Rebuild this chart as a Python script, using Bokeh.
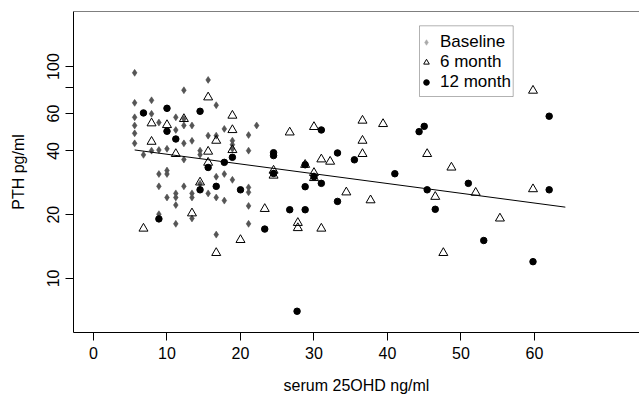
from bokeh.plotting import figure
from bokeh.models import (ColumnDataSource, FixedTicker, Range1d, Legend, LegendItem,
                          Span, BoxAnnotation, PrintfTickFormatter)
from bokeh.embed import file_html
from bokeh.resources import INLINE

# ---------------- data ----------------
base_x = [5.6, 5.6, 5.6, 5.6, 5.6, 5.6,
          6.8,
          7.9, 7.9, 7.9,
          8.9, 8.9, 8.9, 8.9, 8.9,
          10.0, 10.0, 10.0, 10.0, 10.0,
          11.2, 11.2, 11.2, 11.2, 11.2, 11.2,
          12.3, 12.3, 12.3, 12.3, 12.3, 12.3,
          13.4, 13.4, 13.4, 13.4, 13.4,
          14.5, 14.5, 14.5,
          15.6, 15.6, 15.6,
          16.7, 16.7, 16.7, 16.7, 16.7,
          17.8, 17.8, 17.8,
          18.9, 18.9, 18.9, 18.9,
          21.1, 21.1, 21.1, 21.1, 21.1, 21.1,
          22.2]
base_y = [93.4, 67.4, 57.6, 52.7, 48.4, 43.4,
          38.3,
          69.3, 59.8, 40.1,
          54.4, 40.4, 31.1, 27.2, 20.1,
          63.5, 40.9, 32.3, 31.1, 24.1,
          57.6, 50.2, 25.2, 24.1, 22.2, 18.1,
          77.3, 56.6, 52.7, 43.4, 36.4, 27.2,
          52.7, 44.6, 25.2, 24.1, 19.2,
          40.1, 38.4, 28.0,
          86.5, 47.2, 25.2,
          65.7, 47.2, 30.2, 24.1, 16.1,
          50.8, 31.1, 23.3,
          44.7, 42.8, 40.9, 29.2,
          47.5, 40.1, 26.9, 25.5, 22.0, 18.1,
          52.7]

m6_x = [15.6, 18.9, 7.9, 10.0, 12.3, 18.9, 16.7, 7.9, 18.9, 15.6, 11.2, 15.6,
        14.5, 13.4, 6.8, 20.0, 16.7, 26.7, 30.0, 36.6, 36.6, 36.6, 31.0, 32.2,
        24.5, 24.5, 30.0, 30.0, 34.4, 37.7, 23.3, 27.8, 27.8, 31.0, 39.4, 45.4,
        48.7, 46.5, 52.0, 59.8, 55.3, 47.6, 59.8, 28.8]
m6_y = [71.6, 58.7, 54.0, 53.0, 56.6, 50.2, 44.7, 44.2, 40.4, 39.7, 38.7, 35.2,
        28.4, 20.3, 17.2, 15.2, 13.2, 48.9, 51.9, 55.6, 44.7, 38.7, 36.5, 35.6,
        32.3, 30.6, 31.5, 29.8, 25.5, 23.4, 21.3, 18.3, 17.3, 17.2, 53.6, 38.7,
        33.4, 24.3, 25.4, 26.4, 19.2, 13.2, 77.0, 34.4]

m12_x = [6.8, 14.5, 10.0, 10.0, 11.2, 18.9, 17.8, 15.6, 16.7, 14.5, 20.0, 8.9,
         24.5, 24.5, 24.5, 28.8, 31.0, 33.2, 35.5, 30.0, 28.8, 31.0, 33.2, 26.7,
         28.8, 23.3, 27.7, 44.3, 45.0, 41.0, 45.4, 51.0, 62.0, 46.5, 53.1, 59.8, 62.0]
m12_y = [60.4, 61.5, 63.5, 49.5, 45.5, 37.3, 35.3, 33.4, 27.2, 26.2, 26.2, 19.1,
         39.2, 38.0, 31.3, 34.4, 50.2, 39.1, 36.3, 30.2, 27.1, 28.1, 23.1, 21.1,
         21.1, 17.1, 7.0, 49.3, 52.2, 31.2, 26.2, 28.1, 26.2, 21.2, 15.1, 12.0, 58.3]

fit_x = [5.6, 64.2]
fit_y = [40.4, 21.7]

x_ticks = [0, 10, 20, 30, 40, 50, 60]
y_ticks = [10, 20, 40, 60, 80, 100]
y_tick_labels = {10: "10", 20: "20", 40: "40", 60: "60", 80: "", 100: "100"}

legend_labels = ["Baseline", "6 month", "12 month"]

FONT = "Liberation Sans"

# ---------------- figure ----------------
x_lo, x_hi = -2.72, 74.29
y_lo, y_hi = 5.557, 181.9

p = figure(width=639, height=396, output_backend="svg", toolbar_location=None,
           x_range=Range1d(x_lo, x_hi), y_range=Range1d(y_lo, y_hi),
           y_axis_type="log",
           min_border_left=73, min_border_right=0, min_border_top=11, min_border_bottom=64)
p.outline_line_color = None
p.grid.visible = False
p.background_fill_color = "white"
p.border_fill_color = "white"

for ax in (p.xaxis[0], p.yaxis[0]):
    ax.axis_line_color = "black"
    ax.axis_line_width = 1
    ax.major_tick_line_color = "black"
    ax.minor_tick_line_color = None
    ax.major_tick_in = 0
    ax.major_tick_out = 8
    ax.major_label_text_font = FONT
    ax.major_label_text_font_size = "16px"
    ax.major_label_text_color = "black"
    ax.axis_label_text_font = FONT
    ax.axis_label_text_font_size = "16px"
    ax.axis_label_text_font_style = "normal"
    ax.axis_label_text_color = "black"

p.xaxis.ticker = FixedTicker(ticks=x_ticks)
p.xaxis.axis_label = "serum 25OHD ng/ml"
p.xaxis.major_label_standoff = 6
p.xaxis.axis_label_standoff = 15

p.yaxis.ticker = FixedTicker(ticks=y_ticks)
p.yaxis.formatter = PrintfTickFormatter(format="%d")
p.yaxis.major_label_overrides = y_tick_labels
p.yaxis.major_label_orientation = "vertical"
p.yaxis.axis_label = "PTH pg/ml"
p.yaxis.major_label_standoff = 6
p.yaxis.axis_label_standoff = 18

# top frame line
p.add_layout(Span(location=y_hi, dimension="width", line_color="black", line_width=1))

# ---------------- points ----------------
src_b = ColumnDataSource(dict(x=base_x, y=base_y))
src_6 = ColumnDataSource(dict(x=m6_x, y=m6_y))
src_12 = ColumnDataSource(dict(x=m12_x, y=m12_y))

# light-grey copy underneath (used only for the legend symbol)
r_bl = p.scatter("x", "y", source=src_b, marker="diamond", size=6,
                 fill_color="#aaaaaa", line_color="#aaaaaa", line_width=0.5)
r_b = p.scatter("x", "y", source=src_b, marker="diamond", size=7,
                fill_color="#555555", line_color="#555555", line_width=0.5)
r_6 = p.scatter("x", "y", source=src_6, marker="triangle", size=9,
                fill_alpha=0, line_color="black", line_width=1)
r_12 = p.scatter("x", "y", source=src_12, marker="circle", size=6.5,
                 fill_color="black", line_color="black")
p.line(fit_x, fit_y, line_color="black", line_width=1)

# ---------------- legend ----------------
legend = Legend(items=[LegendItem(label=legend_labels[0], renderers=[r_bl]),
                       LegendItem(label=legend_labels[1], renderers=[r_6]),
                       LegendItem(label=legend_labels[2], renderers=[r_12])],
                location=(346, 240), orientation="vertical",
                padding=2, margin=0, spacing=0,
                glyph_width=14, glyph_height=18, label_standoff=7, label_height=18,
                label_text_font=FONT, label_text_font_size="17px",
                label_text_color="black",
                border_line_color=None, background_fill_alpha=0)
p.add_layout(legend)

p.add_layout(BoxAnnotation(left=346, right=439.7, top=306.7, bottom=236,
                           left_units="screen", right_units="screen",
                           top_units="screen", bottom_units="screen",
                           fill_color=None, line_color="black", line_width=1))

open("out.html", "w").write(file_html(p, INLINE))
